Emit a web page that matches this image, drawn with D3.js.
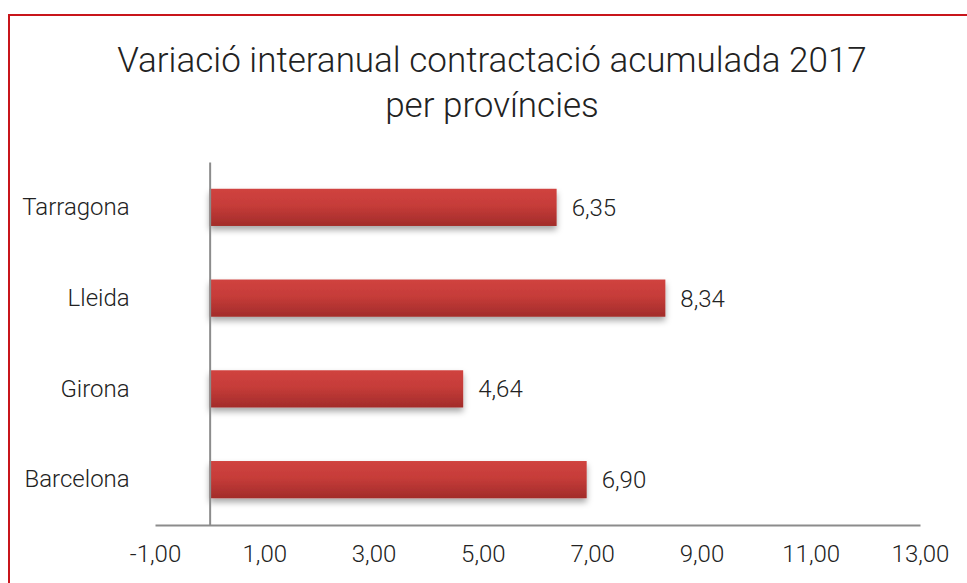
<!DOCTYPE html>
<html>
<head>
<meta charset="utf-8">
<script src="https://cdn.jsdelivr.net/npm/d3@7"></script>
<style>
  body { margin: 0; background: #fff; }
  svg text { font-family: Roboto, "Open Sans", sans-serif; font-weight: 300; fill: #222; }
</style>
</head>
<body>
<div class="vis-barchart"></div>
<script>
const categories = ["Tarragona", "Lleida", "Girona", "Barcelona"];
const values = [6.35, 8.34, 4.64, 6.90];
const tickValues = [-1, 1, 3, 5, 7, 9, 11, 13];
const titleLines = ["Variació interanual contractació acumulada 2017", "per províncies"];

const W = 967, H = 583;
const margin = {top: 162, right: 47, bottom: 58, left: 155};
const width = W - margin.left - margin.right;
const height = H - margin.top - margin.bottom;

const root = d3.select('.vis-barchart').append('svg')
    .attr('width', W)
    .attr('height', H);

// red frame, runs off the right and bottom edges
root.append('rect')
    .attr('x', 9).attr('y', 15)
    .attr('width', W + 20).attr('height', H + 20)
    .attr('fill', 'none')
    .attr('stroke', '#c8151b')
    .attr('stroke-width', 2);

const defs = root.append('defs');
const grad = defs.append('linearGradient')
    .attr('id', 'barGrad')
    .attr('x1', 0).attr('y1', 0).attr('x2', 0).attr('y2', 1);
grad.append('stop').attr('offset', '0%').attr('stop-color', '#d0433f');
grad.append('stop').attr('offset', '45%').attr('stop-color', '#c63c39');
grad.append('stop').attr('offset', '100%').attr('stop-color', '#a22c2a');

const shadow = defs.append('filter')
    .attr('id', 'shadow')
    .attr('x', '-5%').attr('y', '-30%').attr('width', '110%').attr('height', '180%');
shadow.append('feDropShadow')
    .attr('dx', 0).attr('dy', 4)
    .attr('stdDeviation', 3)
    .attr('flood-color', '#000')
    .attr('flood-opacity', 0.35);

// title
root.append('text')
    .attr('x', 492)
    .attr('text-anchor', 'middle')
    .style('font-size', '35px')
    .selectAll('tspan')
    .data(titleLines)
    .enter().append('tspan')
    .attr('x', 492)
    .attr('y', (d, i) => 72 + i * 45)
    .text(d => d);

const svg = root.append('g')
    .attr('transform', 'translate(' + margin.left + ',' + margin.top + ')');

const x = d3.scaleLinear()
    .domain([-1, 13])
    .range([0, width]);

const y = d3.scaleBand()
    .domain(categories)
    .range([0, height])
    .paddingInner(0.59)
    .paddingOuter(0.295);

// bars
svg.selectAll('.bar')
    .data(categories)
    .enter().append('rect')
    .attr('class', 'bar')
    .attr('x', x(0))
    .attr('y', d => y(d))
    .attr('width', (d, i) => x(values[i]) - x(0))
    .attr('height', y.bandwidth())
    .attr('fill', 'url(#barGrad)')
    .attr('filter', 'url(#shadow)');

// value labels
svg.selectAll('.val')
    .data(categories)
    .enter().append('text')
    .attr('class', 'val')
    .attr('x', (d, i) => x(values[i]) + 15)
    .attr('y', d => y(d) + y.bandwidth() / 2)
    .attr('dy', '0.35em')
    .style('font-size', '24px')
    .text((d, i) => values[i].toFixed(2).replace('.', ','));

// x axis
const xAxis = svg.append('g')
    .attr('transform', 'translate(0,' + height + ')')
    .call(d3.axisBottom(x)
        .tickValues(tickValues)
        .tickSize(0)
        .tickPadding(20)
        .tickFormat(d => d3.format('.2f')(d).replace('.', ',').replace('−', '-')));
xAxis.select('.domain').attr('stroke', '#8c8c8c').attr('stroke-width', 2);
xAxis.selectAll('text').style('font-size', '24px').attr('fill', '#222');

// y axis at zero
const yAxis = svg.append('g')
    .attr('transform', 'translate(' + x(0) + ',0)')
    .call(d3.axisLeft(y).tickSize(0).tickPadding(80));
yAxis.select('.domain').attr('stroke', '#8c8c8c').attr('stroke-width', 2);
yAxis.selectAll('text').style('font-size', '24px').attr('fill', '#222');
</script>
</body>
</html>
